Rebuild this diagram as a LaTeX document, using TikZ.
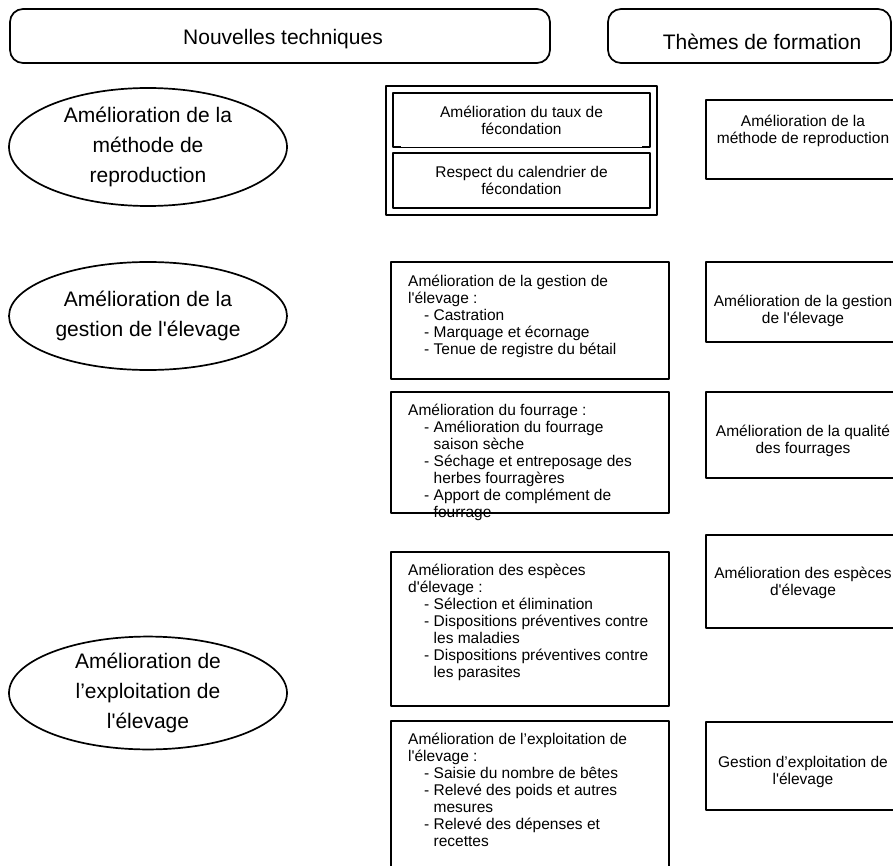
\documentclass[tikz,border=0pt]{standalone}
\usepackage{fontspec}
\newfontfamily\lsans{Liberation Sans}
\usetikzlibrary{shapes.geometric}
% indented list lines inside the technique boxes
\newcommand{\itemline}[1]{\hspace*{16pt}- #1}
\newcommand{\itemcont}[1]{\hspace*{25.5pt}#1}
\begin{document}
\begin{tikzpicture}[x=1pt,y=-1pt,line join=round,
  frame/.style={draw=black,line width=1.7pt},
  bigtext/.style={font=\lsans\fontsize{21}{30}\selectfont},
  smalltext/.style={font=\lsans\fontsize{15.5}{17}\selectfont},
  header/.style={frame,rectangle,rounded corners=13pt,inner sep=0pt},
  headtext/.style={inner sep=0pt,bigtext},
  oval/.style={frame,ellipse,inner sep=0pt,align=center,bigtext},
  plainbox/.style={frame,rectangle,inner sep=0pt},
  techbox/.style={plainbox,anchor=north west,minimum width=278pt},
  listtext/.style={anchor=north west,inner sep=0pt,align=left,smalltext},
  centertext/.style={inner sep=0pt,align=center,smalltext},
  themebox/.style={plainbox,minimum width=198pt}
]
\useasboundingbox (0,0) rectangle (893,866);
\clip (0,0) rectangle (893,866);

% column headers
\node[header,minimum width=540pt,minimum height=54pt] (hnew) at (280,36) {};
\node[headtext] (hnewt) at (283,39) {Nouvelles techniques};
\node[header,minimum width=283pt,minimum height=54pt] (htheme) at (749.5,36) {};
\node[headtext] (hthemet) at (762,42) {Th\`emes de formation};

% domains
\node[oval,minimum width=278pt,minimum height=118pt] (e1) at (148,147)
  {Amélioration de la\\méthode de\\reproduction};
\node[oval,minimum width=278pt,minimum height=108pt] (e2) at (148,316)
  {Amélioration de la\\gestion de l'élevage};
\node[oval,minimum width=278pt,minimum height=108pt] (e3) at (148,693)
  {Amélioration de\\l’exploitation de\\l'élevage};

% reproduction techniques (double frame)
\node[plainbox,minimum width=271pt,minimum height=129pt] (rep) at (521.5,150.5) {};
\node[centertext,minimum width=257pt,minimum height=54pt] (in1) at (521.5,120)
  {Amélioration du taux de\\fécondation};
\draw[line width=1.7pt] ([xshift=8pt]in1.south west) -- (in1.south west) -- (in1.north west)
  -- (in1.north east) -- (in1.south east) -- ([xshift=-8pt]in1.south east);
\draw[line width=0.6pt] (in1.south west) -- (in1.south east);
\node[plainbox,centertext,minimum width=257pt,minimum height=55pt] (in2) at (521.5,180.5)
  {Respect du calendrier de\\fécondation};

% technique boxes
\node[techbox,minimum height=117pt] (m1) at (390,261) {};
\node[listtext] (m1t) at ([shift={(18,14)}]m1.north west)
  {Amélioration de la gestion de\\l'élevage :\\
   \itemline{Castration}\\
   \itemline{Marquage et écornage}\\
   \itemline{Tenue de registre du bétail}};

\node[techbox,minimum height=121pt] (m2) at (390,391) {};
\node[listtext] (m2t) at ([shift={(18,13)}]m2.north west)
  {Amélioration du fourrage :\\
   \itemline{Amélioration du fourrage}\\
   \itemcont{saison sèche}\\
   \itemline{Séchage et entreposage des}\\
   \itemcont{herbes fourragères}\\
   \itemline{Apport de complément de}\\
   \itemcont{fourrage}};

\node[techbox,minimum height=154pt] (m3) at (390,551) {};
\node[listtext] (m3t) at ([shift={(18,13)}]m3.north west)
  {Amélioration des espèces\\d'élevage :\\
   \itemline{Sélection et élimination}\\
   \itemline{Dispositions préventives contre}\\
   \itemcont{les maladies}\\
   \itemline{Dispositions préventives contre}\\
   \itemcont{les parasites}};

\node[techbox,minimum height=170pt] (m4) at (390,720) {};
\node[listtext] (m4t) at ([shift={(18,13)}]m4.north west)
  {Amélioration de l’exploitation de\\l'élevage :\\
   \itemline{Saisie du nombre de bêtes}\\
   \itemline{Relevé des poids et autres}\\
   \itemcont{mesures}\\
   \itemline{Relevé des dépenses et}\\
   \itemcont{recettes}};

% training themes
\node[themebox,minimum height=79pt] (r1) at (805,139.5) {};
\node[centertext] (r1t) at (803,131) {Amélioration de la\\méthode de reproduction};
\node[themebox,minimum height=80pt] (r2) at (805,302) {};
\node[centertext] (r2t) at (803,311) {Amélioration de la gestion\\de l'élevage};
\node[themebox,minimum height=86pt] (r3) at (805,435) {};
\node[centertext] (r3t) at (803,441) {Amélioration de la qualité\\des fourrages};
\node[themebox,minimum height=93pt] (r4) at (805,581.5) {};
\node[centertext] (r4t) at (803,582.5) {Amélioration des espèces\\d'élevage};
\node[themebox,minimum height=88pt] (r5) at (805,766) {};
\node[centertext] (r5t) at (803,771.5) {Gestion d’exploitation de\\l'élevage};
\end{tikzpicture}
\end{document}
